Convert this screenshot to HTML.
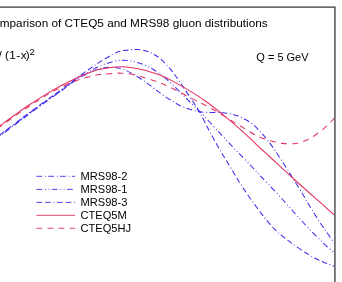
<!DOCTYPE html>
<html><head><meta charset="utf-8"><style>
html,body{margin:0;padding:0;background:#fff;}
body{width:342px;height:282px;overflow:hidden;position:relative;font-family:"Liberation Sans",sans-serif;color:#000;}
svg{position:absolute;left:0;top:0;}
.t{position:absolute;white-space:nowrap;font-size:11px;line-height:13px;}
.l{left:80.5px;font-size:11.1px;}
#tx{position:absolute;left:0;top:0;width:342px;height:282px;will-change:transform;}
</style></head><body>
<svg width="342" height="282" viewBox="0 0 342 282">
<defs><clipPath id="c"><rect x="0" y="7" width="335" height="275"/></clipPath></defs>
<g clip-path="url(#c)">
<path d="M-6.00,139.30 C-5.00,138.55 -3.42,137.38 0.00,134.80 C3.42,132.22 9.53,127.55 14.50,123.80 C19.47,120.05 23.88,116.65 29.80,112.30 C35.72,107.95 44.97,101.32 50.00,97.70 C55.03,94.08 55.38,94.00 60.00,90.60 C64.62,87.20 72.70,80.97 77.70,77.30 C82.70,73.63 86.28,71.17 90.00,68.60 C93.72,66.03 96.20,64.28 100.00,61.90 C103.80,59.52 109.47,56.08 112.80,54.30 C116.13,52.52 117.52,51.90 120.00,51.20 C122.48,50.50 124.78,50.39 127.70,50.10 C130.62,49.81 134.32,49.27 137.50,49.45 C140.68,49.63 144.22,50.44 146.80,51.20 C149.38,51.96 150.80,52.78 153.00,54.00 C155.20,55.22 156.95,55.80 160.00,58.50 C163.05,61.20 167.65,65.77 171.30,70.20 C174.95,74.63 178.35,79.97 181.90,85.10 C185.45,90.23 189.55,96.30 192.60,101.00 C195.65,105.70 197.68,108.83 200.20,113.30 C202.72,117.77 205.90,124.35 207.70,127.80 C209.50,131.25 208.85,130.10 211.00,134.00 C213.15,137.90 217.22,145.42 220.60,151.20 C223.98,156.98 227.57,162.58 231.30,168.70 C235.03,174.82 238.22,180.72 243.00,187.90 C247.78,195.08 254.75,204.93 260.00,211.80 C265.25,218.67 269.67,224.20 274.50,229.10 C279.33,234.00 283.38,236.98 289.00,241.20 C294.62,245.42 302.58,250.98 308.20,254.40 C313.82,257.82 318.27,259.68 322.70,261.70 C327.13,263.72 331.58,265.28 334.80,266.50 C338.02,267.72 340.80,268.58 342.00,269.00" fill="none" stroke="#3e2eee" stroke-width="1.06" stroke-dasharray="5.713 2.955 5.516 2.659 0.886 2.462" stroke-dashoffset="13.08"/>
<path d="M-6.00,139.90 C-5.00,139.15 -3.42,137.98 0.00,135.40 C3.42,132.82 9.53,128.15 14.50,124.40 C19.47,120.65 23.88,117.25 29.80,112.90 C35.72,108.55 44.97,101.92 50.00,98.30 C55.03,94.68 55.38,94.58 60.00,91.20 C64.62,87.82 72.70,81.37 77.70,78.00 C82.70,74.63 86.28,72.98 90.00,71.00 C93.72,69.02 96.20,67.65 100.00,66.10 C103.80,64.55 108.90,62.68 112.80,61.70 C116.70,60.72 119.50,60.12 123.40,60.20 C127.30,60.28 131.95,61.05 136.20,62.20 C140.45,63.35 144.93,65.15 148.90,67.10 C152.87,69.05 156.27,71.17 160.00,73.90 C163.73,76.63 167.65,80.15 171.30,83.50 C174.95,86.85 178.78,90.92 181.90,94.00 C185.02,97.08 186.98,99.03 190.00,102.00 C193.02,104.97 196.33,108.03 200.00,111.80 C203.67,115.57 208.23,120.57 212.00,124.60 C215.77,128.63 219.38,132.55 222.60,136.00 C225.82,139.45 228.40,142.23 231.30,145.30 C234.20,148.37 236.45,150.70 240.00,154.40 C243.55,158.10 249.27,163.98 252.60,167.50 C255.93,171.02 257.35,172.67 260.00,175.50 C262.65,178.33 265.28,181.12 268.50,184.50 C271.72,187.88 275.88,192.08 279.30,195.80 C282.72,199.52 285.98,203.43 289.00,206.80 C292.02,210.17 294.20,212.48 297.40,216.00 C300.60,219.52 303.98,223.48 308.20,227.90 C312.42,232.32 318.27,238.28 322.70,242.50 C327.13,246.72 331.58,250.40 334.80,253.20 C338.02,256.00 340.80,258.28 342.00,259.30" fill="none" stroke="#3e2eee" stroke-width="1.06" stroke-dasharray="5.819 2.809 0.903 2.508 0.903 2.408" stroke-dashoffset="1.28"/>
<path d="M-6.00,140.50 C-5.00,139.75 -3.42,138.58 0.00,136.00 C3.42,133.42 9.53,128.75 14.50,125.00 C19.47,121.25 23.88,117.85 29.80,113.50 C35.72,109.15 44.97,102.52 50.00,98.90 C55.03,95.28 55.38,95.15 60.00,91.80 C64.62,88.45 72.70,82.05 77.70,78.80 C82.70,75.55 86.28,73.98 90.00,72.30 C93.72,70.62 96.57,69.55 100.00,68.70 C103.43,67.85 107.05,67.20 110.60,67.20 C114.15,67.20 117.75,67.67 121.30,68.70 C124.85,69.73 128.35,71.50 131.90,73.40 C135.45,75.30 139.05,77.73 142.60,80.10 C146.15,82.47 150.30,85.47 153.20,87.60 C156.10,89.73 156.98,90.75 160.00,92.90 C163.02,95.05 167.65,98.25 171.30,100.50 C174.95,102.75 178.32,104.78 181.90,106.40 C185.48,108.02 189.57,109.27 192.80,110.20 C196.03,111.13 198.10,111.62 201.30,112.00 C204.50,112.38 208.45,112.38 212.00,112.50 C215.55,112.62 219.07,112.37 222.60,112.70 C226.13,113.03 230.30,113.82 233.20,114.50 C236.10,115.18 236.88,115.30 240.00,116.80 C243.12,118.30 248.40,120.88 251.90,123.50 C255.40,126.12 258.42,129.75 261.00,132.50 C263.58,135.25 264.93,136.83 267.40,140.00 C269.87,143.17 272.17,146.08 275.80,151.50 C279.43,156.92 286.20,167.80 289.20,172.50 C292.20,177.20 291.63,176.23 293.80,179.70 C295.97,183.17 299.80,189.32 302.20,193.30 C304.60,197.28 305.78,199.57 308.20,203.60 C310.62,207.63 314.68,214.27 316.70,217.50 C318.72,220.73 317.28,218.65 320.30,223.00 C323.32,227.35 331.18,238.60 334.80,243.60 C338.42,248.60 340.80,251.43 342.00,253.00" fill="none" stroke="#3e2eee" stroke-width="1.06" stroke-dasharray="5.819 2.809 0.903 2.308" stroke-dashoffset="10.26"/>
<path d="M-6.00,130.00 C-5.00,129.28 -3.42,128.17 0.00,125.70 C3.42,123.23 9.53,118.73 14.50,115.20 C19.47,111.67 23.88,108.38 29.80,104.50 C35.72,100.62 44.97,94.93 50.00,91.90 C55.03,88.87 56.45,88.20 60.00,86.30 C63.55,84.40 67.63,82.28 71.30,80.50 C74.97,78.72 78.45,77.12 82.00,75.60 C85.55,74.08 89.60,72.45 92.60,71.40 C95.60,70.35 96.63,69.98 100.00,69.30 C103.37,68.62 109.25,67.72 112.80,67.30 C116.35,66.88 118.12,66.73 121.30,66.80 C124.48,66.87 128.35,67.20 131.90,67.70 C135.45,68.20 139.25,69.02 142.60,69.80 C145.95,70.58 149.10,71.52 152.00,72.40 C154.90,73.28 156.78,73.77 160.00,75.10 C163.22,76.43 165.87,77.48 171.30,80.40 C176.73,83.32 186.53,88.87 192.60,92.60 C198.67,96.33 202.70,99.15 207.70,102.80 C212.70,106.45 217.22,110.10 222.60,114.50 C227.98,118.90 233.37,123.28 240.00,129.20 C246.63,135.12 257.40,145.37 262.40,150.00 C267.40,154.63 264.77,152.17 270.00,157.00 C275.23,161.83 286.30,172.20 293.80,179.00 C301.30,185.80 308.17,191.72 315.00,197.80 C321.83,203.88 330.30,211.47 334.80,215.50 C339.30,219.53 340.80,220.92 342.00,222.00" fill="none" stroke="#e3325e" stroke-width="1.06"/>
<path d="M-6.00,131.00 C-5.00,130.28 -3.42,129.15 0.00,126.70 C3.42,124.25 9.53,119.78 14.50,116.30 C19.47,112.82 23.88,109.68 29.80,105.80 C35.72,101.92 44.97,95.97 50.00,93.00 C55.03,90.03 56.45,89.73 60.00,88.00 C63.55,86.27 67.63,84.15 71.30,82.60 C74.97,81.05 78.55,79.80 82.00,78.70 C85.45,77.60 89.00,76.70 92.00,76.00 C95.00,75.30 96.53,74.93 100.00,74.50 C103.47,74.07 109.25,73.62 112.80,73.40 C116.35,73.18 118.12,73.05 121.30,73.20 C124.48,73.35 128.35,73.63 131.90,74.30 C135.45,74.97 139.05,76.18 142.60,77.20 C146.15,78.22 150.30,79.47 153.20,80.40 C156.10,81.33 156.98,81.57 160.00,82.80 C163.02,84.03 165.87,85.12 171.30,87.80 C176.73,90.48 186.75,95.90 192.60,98.90 C198.45,101.90 201.77,103.32 206.40,105.80 C211.03,108.28 215.93,111.15 220.40,113.80 C224.87,116.45 229.93,119.70 233.20,121.70 C236.47,123.70 235.88,123.38 240.00,125.80 C244.12,128.22 251.93,133.47 257.90,136.20 C263.87,138.93 269.83,140.95 275.80,142.20 C281.77,143.45 288.23,144.20 293.70,143.70 C299.17,143.20 303.63,141.68 308.60,139.20 C313.57,136.72 319.43,132.08 323.50,128.80 C327.57,125.52 329.92,122.80 333.00,119.50 C336.08,116.20 340.50,110.75 342.00,109.00" fill="none" stroke="#e3325e" stroke-width="1.06" stroke-dasharray="5.865 5.359" stroke-dashoffset="6.95"/>
</g>
<rect x="0" y="6" width="336" height="1" fill="#989898"/>
<rect x="0" y="7" width="336" height="1" fill="#6a6a6a"/>
<rect x="334" y="7" width="1" height="275" fill="#6a6a6a"/>
<rect x="335" y="6" width="1" height="276" fill="#8c8c8c"/>
<rect x="334" y="7" width="1" height="1" fill="#505050"/>
<rect x="335" y="6" width="1" height="1" fill="#b4b4b4"/>
<g stroke-width="1" fill="none" stroke-opacity="0.9">
<line x1="36.4" y1="176.3" x2="75.1" y2="176.3" stroke="#3e2eee" stroke-dasharray="5.8 2.8 0.9 2.3"/>
<line x1="36.4" y1="189.4" x2="75.1" y2="189.4" stroke="#3e2eee" stroke-dasharray="5.8 2.8 0.9 2.5 0.9 2.4"/>
<line x1="36.4" y1="202.4" x2="75.1" y2="202.4" stroke="#3e2eee" stroke-dasharray="5.8 3 5.6 2.7 0.9 2.5"/>
<line x1="36.4" y1="215.3" x2="75.1" y2="215.3" stroke="#e3325e"/>
<line x1="36.4" y1="228.3" x2="75.1" y2="228.3" stroke="#e3325e" stroke-dasharray="5.8 5.3"/>
</g>
</svg>
<div id="tx">
<div class="t" style="left:-0.25px;top:15.95px;font-size:11.75px;line-height:14px;letter-spacing:0.018px;">mparison of CTEQ5 and MRS98 gluon distributions</div>
<div class="t" style="left:-1.45px;top:47.8px;font-size:11.7px;line-height:14px;">/ (<span style="margin-left:0.3px">1</span><span style="margin-left:0.5px">-</span><span style="margin-left:0.55px">x</span><span style="margin-left:-0.95px">)</span><span style="font-size:9.6px;position:relative;top:-4.2px;margin-left:-0.1px;">2</span></div>
<div class="t" style="left:256.3px;top:51.2px;">Q = 5 GeV</div>
<div class="t l" style="top:170.35px;">MRS98-2</div>
<div class="t l" style="top:183.15px;">MRS98-1</div>
<div class="t l" style="top:195.95px;">MRS98-3</div>
<div class="t l" style="top:208.75px;">CTEQ5M</div>
<div class="t l" style="top:221.55px;">CTEQ5HJ</div>
</div>
</body></html>
